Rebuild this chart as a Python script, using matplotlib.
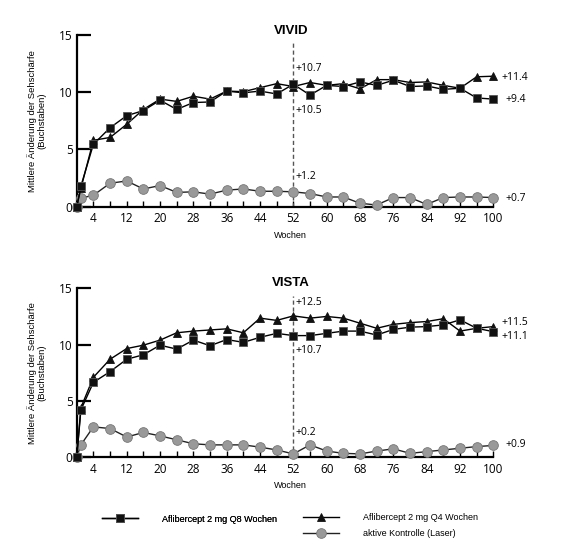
import matplotlib
matplotlib.use("Agg")
import matplotlib.pyplot as plt
from matplotlib.lines import Line2D

plt.rcParams['font.family'] = ['Liberation Sans', 'DejaVu Sans']

weeks = [0, 1, 4, 8, 12, 16, 20, 24, 28, 32, 36, 40, 44, 48, 52,
         56, 60, 64, 68, 72, 76, 80, 84, 88, 92, 96, 100]

vivid_q8 = [0, 1.8, 5.45, 6.9, 7.95, 8.4, 9.3, 8.5, 9.1, 9.15, 10.1, 9.95, 10.1, 9.85, 10.7,
            9.75, 10.6, 10.5, 10.9, 10.6, 11.05, 10.5, 10.55, 10.25, 10.35, 9.5, 9.4]
vivid_q4 = [0, 1.6, 5.8, 6.05, 7.2, 8.5, 9.4, 9.2, 9.65, 9.4, 10.1, 10.05, 10.4, 10.75, 10.5,
            10.85, 10.6, 10.75, 10.3, 11.1, 11.1, 10.85, 10.9, 10.6, 10.35, 11.35, 11.4]
vivid_laser = [0, 0.75, 1.0, 2.05, 2.25, 1.55, 1.85, 1.25, 1.3, 1.1, 1.45, 1.55, 1.35, 1.35, 1.3,
               1.15, 0.85, 0.85, 0.3, 0.15, 0.8, 0.8, 0.2, 0.8, 0.85, 0.85, 0.8]

vista_q8 = [0, 4.2, 6.65, 7.6, 8.7, 9.1, 9.95, 9.6, 10.4, 9.9, 10.45, 10.2, 10.65, 11.0, 10.8,
            10.8, 11.0, 11.2, 11.2, 10.85, 11.35, 11.55, 11.6, 11.75, 12.2, 11.45, 11.15]
vista_q4 = [0, 4.4, 7.1, 8.7, 9.65, 9.95, 10.4, 11.05, 11.2, 11.3, 11.4, 11.05, 12.35, 12.15, 12.55,
            12.35, 12.5, 12.35, 11.9, 11.45, 11.8, 11.95, 12.05, 12.3, 11.2, 11.45, 11.6]
vista_laser = [0, 1.1, 2.7, 2.55, 1.8, 2.2, 1.9, 1.55, 1.2, 1.1, 1.1, 1.1, 0.9, 0.65, 0.3,
               1.1, 0.55, 0.35, 0.3, 0.55, 0.75, 0.35, 0.5, 0.65, 0.8, 0.95, 1.05]

# annotation texts: (x week, y value, text)
vivid_notes = [(52.5, 12.1, "+10.7"), (52.5, 8.4, "+10.5"), (52.5, 2.6, "+1.2"),
               (102, 11.3, "+11.4"), (103, 9.4, "+9.4"), (103, 0.75, "+0.7")]
vista_notes = [(52.5, 13.7, "+12.5"), (52.5, 9.5, "+10.7"), (52.5, 2.2, "+0.2"),
               (102, 11.95, "+11.5"), (102, 10.75, "+11.1"), (103, 1.1, "+0.9")]

xtick_labels = [4, 12, 20, 28, 36, 44, 52, 60, 68, 76, 84, 92, 100]
xtick_minor = list(range(4, 101, 4))
yticks = [0, 5, 10, 15]

q8_style = dict(color='black', lw=1.0, marker='s', markersize=6, markerfacecolor='#111111',
                markeredgecolor='#555555', markeredgewidth=0.6)
q4_style = dict(color='black', lw=1.0, marker='^', markersize=6, markerfacecolor='#111111',
                markeredgecolor='#111111', markeredgewidth=0.6)
laser_style = dict(color='#222222', lw=1.0, marker='o', markersize=7, markerfacecolor='#999999',
                   markeredgecolor='#777777', markeredgewidth=0.6)

fig = plt.figure(figsize=(5.76, 5.46), dpi=100)
ax1 = fig.add_axes([0.1332, 0.6214, 0.7233, 0.3145])
ax2 = fig.add_axes([0.1332, 0.1625, 0.7233, 0.3095])


def draw(ax, title, q8, q4, laser, notes, title_y):
    ax.plot(weeks, laser, clip_on=False, zorder=3, **laser_style)
    ax.plot(weeks, q4, clip_on=False, zorder=4, **q4_style)
    ax.plot(weeks, q8, clip_on=False, zorder=5, **q8_style)
    ax.vlines(52, 0, 14.3, colors='#555555', linestyles=(0, (3, 2)), lw=1.0, zorder=2)
    ax.set_xlim(0, 100)
    ax.set_ylim(0, 15)
    for s in ['top', 'right']:
        ax.spines[s].set_visible(False)
    for s in ['left', 'bottom']:
        ax.spines[s].set_linewidth(1.6)
    ax.set_xticks(xtick_labels)
    ax.set_xticklabels([str(v) for v in xtick_labels], fontsize=8.5, family='Open Sans')
    ax.set_xticks(xtick_minor, minor=True)
    ax.tick_params(axis='x', which='both', direction='in', length=4, width=1.0, pad=4)
    ax.set_yticks(yticks)
    ax.set_yticklabels([str(v) for v in yticks], fontsize=8.5, family='Open Sans')
    ax.tick_params(axis='y', direction='in', length=10, width=1.6, pad=3)
    ax.set_ylabel("Mittlere Änderung der Sehschärfe\n(Buchstaben)", fontsize=6.8, linespacing=1.1)
    ax.yaxis.set_label_coords(-0.072, 0.5)
    ax.set_xlabel("Wochen", fontsize=6.5)
    ax.xaxis.set_label_coords(0.514, -0.14)
    ax.text(51.5, title_y, title, fontsize=9.5, fontweight='bold', ha='center', va='center')
    for x, y, t in notes:
        ax.text(x, y, t, fontsize=7.5, ha='left', va='center', clip_on=False, family='Open Sans')


draw(ax1, "VIVID", vivid_q8, vivid_q4, vivid_laser, vivid_notes, 15.35)
draw(ax2, "VISTA", vista_q8, vista_q4, vista_laser, vista_notes, 15.45)

leg_kw = dict(frameon=False, fontsize=6.5, handlelength=4.0, handletextpad=2.7,
              borderpad=0, borderaxespad=0, labelspacing=0.75)
h_q8 = Line2D([], [], **q8_style)
h_q4 = Line2D([], [], **q4_style)
h_laser = Line2D([], [], **laser_style)
l1 = fig.legend(handles=[h_q8], labels=["Aflibercept 2 mg Q8 Wochen"], loc='center left',
                bbox_to_anchor=(102 / 576, 1 - 519 / 546), **leg_kw)
fig.add_artist(l1)
fig.legend(handles=[h_q4, h_laser], labels=["Aflibercept 2 mg Q4 Wochen", "aktive Kontrolle (Laser)"],
           loc='upper left', bbox_to_anchor=(303 / 576, 1 - 513 / 546), **leg_kw)

fig.savefig("out.png", dpi=100)
